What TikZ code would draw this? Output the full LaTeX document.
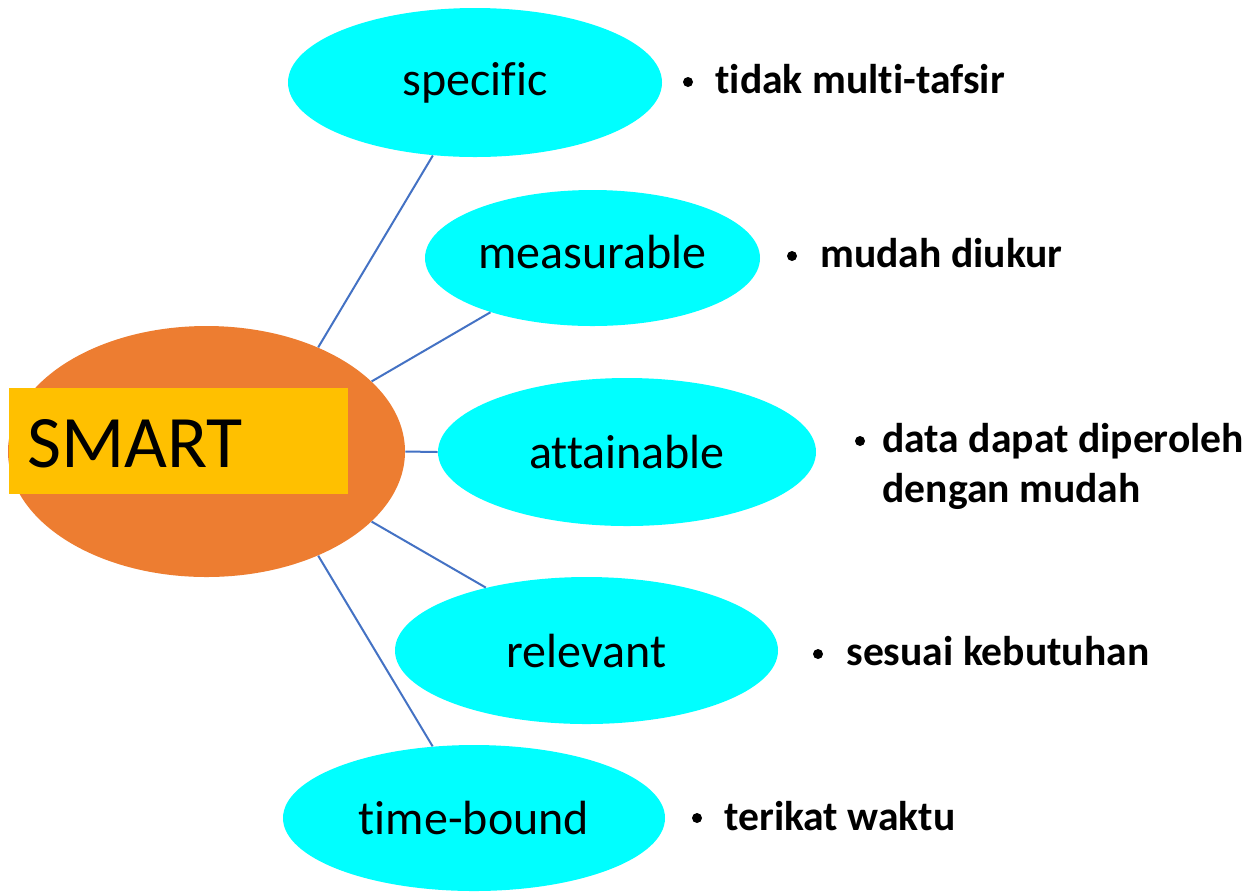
\documentclass[tikz,border=0pt]{standalone}
\usepackage{fontspec}
\setmainfont{Carlito}[Ligatures=NoCommon]
\usetikzlibrary{shapes.geometric}
\definecolor{hub}{HTML}{ED7D31}
\definecolor{tag}{HTML}{FFC000}
\definecolor{leaf}{HTML}{00FFFF}
\definecolor{link}{HTML}{4472C4}
\tikzset{
  hubshape/.style={ellipse, fill=hub, inner sep=0pt},
  leafshape/.style={ellipse, fill=leaf, inner sep=0pt,
    font=\fontsize{24}{29}\selectfont},
  tagbox/.style={rectangle, fill=tag, inner sep=0pt},
  bigword/.style={anchor=base west, inner sep=0pt,
    font=\fontsize{37}{44}\selectfont},
  dot/.style={circle, fill=black, inner sep=0pt, minimum size=5pt},
  note/.style={anchor=base west, inner sep=0pt, align=left,
    font=\fontsize{20.8}{25}\bfseries},
  linkline/.style={draw=link, line width=1pt}
}
\begin{document}
\begin{tikzpicture}[x=0.5pt, y=-0.5pt]
  \path[use as bounding box, fill=white] (0,0) rectangle (1251,891);

  % central node
  \node[hubshape, minimum width=198.5pt, minimum height=125.5pt] (smart) at (206.5,451.5) {};
  \node[tagbox, minimum width=169.5pt, minimum height=53pt] (tagrect) at (178.5,441) {};
  \node[bigword] (smarttext) at (27,467) {SMART};

  % the five criteria
  \node[leafshape, minimum width=187pt, minimum height=74.5pt] (spec) at (475,82.5) {specific};
  \node[leafshape, minimum width=167.5pt, minimum height=68pt] (meas) at (592.5,258) {};
  \node[leafshape, anchor=base] (meastext) at (592.5,268) {measurable};
  \node[leafshape, minimum width=189pt, minimum height=74pt] (att) at (627,452) {attainable};
  \node[leafshape, minimum width=191.5pt, minimum height=73.5pt] (rel) at (586.5,650.5) {relevant};
  \node[leafshape, minimum width=191pt, minimum height=73pt] (time) at (474,818) {time-bound};

  % connectors
  \draw[linkline] (smart.43) -- (spec.240);
  \draw[linkline] (smart.23) -- (meas.208);
  \draw[linkline] (smart.0) -- (att.180);
  \draw[linkline] (smart.-23) -- (rel.148);
  \draw[linkline] (smart.-43) -- (time.120);

  % descriptions
  \node[dot] (d1) at (688,82) {};
  \node[note] (n1) at (715,93) {tidak multi-tafsir};
  \node[dot] (d2) at (792,256) {};
  \node[note] (n2) at (820,267) {mudah diukur};
  \node[dot] (d3) at (860,441) {};
  \node[note, anchor=west] (n3) at (882,466.5) {data dapat diperoleh\\dengan mudah};
  \node[dot] (d4) at (818,654) {};
  \node[note] (n4) at (846,665) {sesuai kebutuhan};
  \node[dot] (d5) at (697,818) {};
  \node[note] (n5) at (724,830) {terikat waktu};
\end{tikzpicture}
\end{document}
